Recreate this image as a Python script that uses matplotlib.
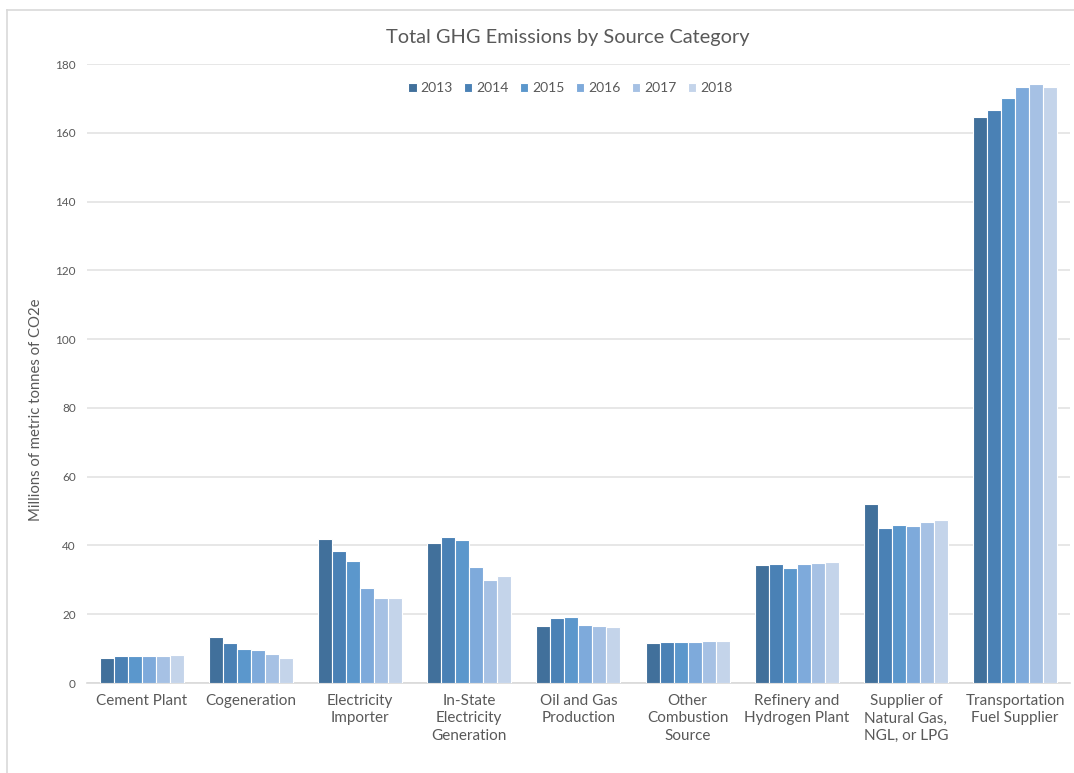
import matplotlib
matplotlib.use("Agg")
import matplotlib.pyplot as plt
import numpy as np
from matplotlib.lines import Line2D

categories = ["Cement Plant", "Cogeneration", "Electricity\nImporter",
              "In-State\nElectricity\nGeneration", "Oil and Gas\nProduction",
              "Other\nCombustion\nSource", "Refinery and\nHydrogen Plant",
              "Supplier of\nNatural Gas,\nNGL, or LPG", "Transportation\nFuel Supplier"]
years = ["2013", "2014", "2015", "2016", "2017", "2018"]
v2013 = [7.3, 13.5, 41.9, 40.7, 16.6, 11.5, 34.3, 52.0, 164.5]
v2014 = [7.8, 11.5, 38.4, 42.6, 18.9, 11.8, 34.5, 45.0, 166.6]
v2015 = [7.8, 9.9, 35.6, 41.6, 19.1, 12.0, 33.5, 45.9, 170.0]
v2016 = [7.8, 9.5, 27.5, 33.6, 17.0, 12.0, 34.5, 45.8, 173.2]
v2017 = [7.8, 8.3, 24.6, 29.9, 16.7, 12.3, 34.9, 46.9, 174.2]
v2018 = [8.1, 7.4, 24.6, 31.1, 16.2, 12.3, 35.3, 47.3, 173.2]
series = [v2013, v2014, v2015, v2016, v2017, v2018]
colors = ["#41709b", "#4a81b5", "#5b97cc", "#7eaadb", "#a6c1e4", "#c4d4ea"]

plt.rcParams['font.family'] = ['Lato', 'DejaVu Sans']
txt = "#595959"

fig = plt.figure(figsize=(10.74, 7.73), dpi=100)
ax = fig.add_axes([0.081, 0.1164, 0.915, 0.8008])

n = len(series)
x = np.arange(len(categories))
bw = 0.77 / n
for i, (vals, c, yr) in enumerate(zip(series, colors, years)):
    ax.bar(x + (i - (n - 1) / 2) * bw, vals, width=bw, color=c,
           edgecolor="white", linewidth=0.8, label=yr, zorder=3)

ax.set_xlim(-0.5, len(categories) - 0.5)
ax.set_ylim(0, 180)
ax.set_yticks(np.arange(0, 181, 20))
ax.yaxis.grid(True, color="#e3e3e3", linewidth=1.2, zorder=0)
for s in ["top", "right", "left"]:
    ax.spines[s].set_visible(False)
ax.spines["bottom"].set_color("#d9d9d9")
ax.spines["bottom"].set_linewidth(1.2)
ax.tick_params(axis="y", length=0, labelsize=8.5, labelcolor=txt, pad=8)
ax.tick_params(axis="x", length=0, labelsize=11, labelcolor=txt, pad=8)
ax.set_xticks(x)
ax.set_xticklabels(categories, linespacing=1.3)
ax.set_ylabel("Millions of metric tonnes of CO2e", fontsize=10.7, color=txt)
ax.yaxis.set_label_coords(-0.045, 0.441)

fig.text(568 / 1074, 0.951, "Total GHG Emissions by Source Category", ha="center", va="center",
         fontsize=14.4, color=txt)

ax.legend(loc="upper center", bbox_to_anchor=(0.492, 0.991), ncol=6, frameon=False,
          fontsize=10, labelcolor=txt, handlelength=0.6, handleheight=0.6,
          handletextpad=0.3, columnspacing=0.8)

# frame of the chart area
fig.add_artist(Line2D([7/1074, 7/1074], [0, 1 - 10/773], color="#d9d9d9", lw=1.2,
                      transform=fig.transFigure))
fig.add_artist(Line2D([7/1074, 1], [1 - 10/773, 1 - 10/773], color="#d9d9d9", lw=1.2,
                      transform=fig.transFigure))

fig.savefig("out.png", dpi=100)
